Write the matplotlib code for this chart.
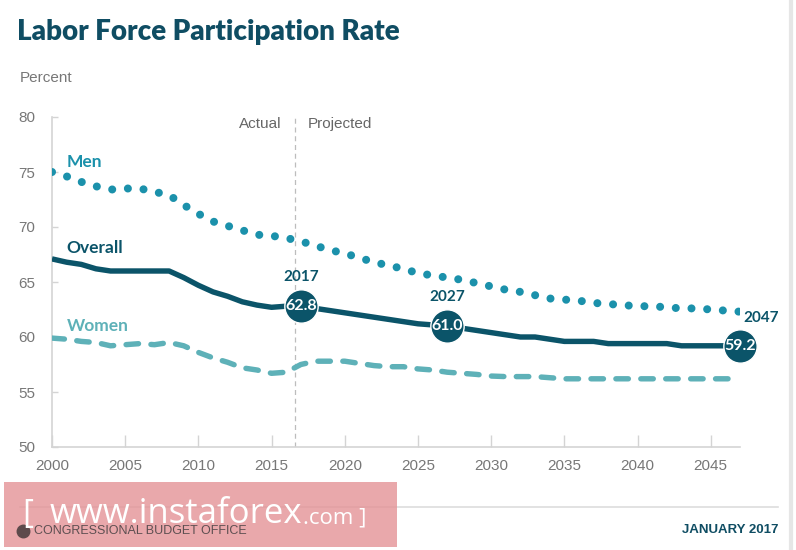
import matplotlib
matplotlib.use("Agg")
import matplotlib.pyplot as plt
from matplotlib import font_manager
from matplotlib.patches import Rectangle
from matplotlib.lines import Line2D

years = list(range(2000, 2048))
men = [75.0, 74.6, 74.1, 73.7, 73.4, 73.5, 73.5, 73.2, 72.9, 72.0,
       71.2, 70.5, 70.1, 69.7, 69.3, 69.2, 69.0, 68.7, 68.3, 67.9,
       67.6, 67.2, 66.8, 66.5, 66.2, 65.8, 65.6, 65.4, 65.2, 64.9,
       64.6, 64.3, 64.1, 63.8, 63.5, 63.4, 63.3, 63.1, 63.0, 62.9,
       62.8, 62.8, 62.7, 62.6, 62.6, 62.5, 62.4, 62.3]
overall = [67.1, 66.8, 66.6, 66.2, 66.0, 66.0, 66.0, 66.0, 66.0, 65.4,
           64.7, 64.1, 63.7, 63.2, 62.9, 62.7, 62.8, 62.8, 62.6, 62.4,
           62.2, 62.0, 61.8, 61.6, 61.4, 61.2, 61.1, 61.0, 60.8, 60.6,
           60.4, 60.2, 60.0, 60.0, 59.8, 59.6, 59.6, 59.6, 59.4, 59.4,
           59.4, 59.4, 59.4, 59.2, 59.2, 59.2, 59.2, 59.2]
women = [59.9, 59.8, 59.6, 59.5, 59.2, 59.3, 59.4, 59.3, 59.5, 59.2,
         58.6, 58.1, 57.7, 57.2, 57.0, 56.7, 56.8, 57.5, 57.8, 57.8,
         57.8, 57.6, 57.4, 57.3, 57.3, 57.1, 57.0, 56.8, 56.7, 56.6,
         56.45, 56.4, 56.4, 56.4, 56.3, 56.2, 56.2, 56.2, 56.2, 56.2,
         56.2, 56.2, 56.2, 56.2, 56.2, 56.2, 56.2, 56.2]
highlight_years = [2017, 2027, 2047]
highlight_vals = [62.8, 61.0, 59.2]
xticks = [2000, 2005, 2010, 2015, 2020, 2025, 2030, 2035, 2040, 2045]
yticks = [50, 55, 60, 65, 70, 75, 80]
split_year = 2016.6

C_MEN = "#1b91ab"
C_OVR = "#0b5469"
C_WOM = "#5eb1b8"
C_TITLE = "#0f4d63"
C_GRAY = "#777777"
C_AX = "#d4d4d4"

installed = {f.name for f in font_manager.fontManager.ttflist}
if "Liberation Sans Narrow" in installed:
    NARROW = "Liberation Sans Narrow"
elif "DejaVu Sans Condensed" in installed:
    NARROW = "DejaVu Sans Condensed"
else:
    NARROW = "Liberation Sans"
narrow = [NARROW, "DejaVu Sans"]
bold_font = ["Lato", "DejaVu Sans"]

W, H = 796, 550
fig = plt.figure(figsize=(W / 100, H / 100), dpi=100)
ax = fig.add_axes([52 / W, 1 - 447 / H, (740 - 52) / W, (447 - 117) / H])
ax.set_xlim(2000, 2047)
ax.set_ylim(50, 80)
ax.patch.set_alpha(0)
for s in ["top", "right"]:
    ax.spines[s].set_visible(False)
for s in ["left", "bottom"]:
    ax.spines[s].set_color(C_AX)
    ax.spines[s].set_linewidth(1.2)

ax.set_xticks(xticks)
ax.set_yticks(yticks)
ax.tick_params(axis="x", direction="in", length=9, width=1, color=C_AX,
               labelsize=11, labelcolor=C_GRAY, pad=9)
ax.tick_params(axis="y", direction="in", length=4, width=1, color=C_AX,
               labelsize=11, labelcolor=C_GRAY, pad=12)
for lab in ax.get_xticklabels() + ax.get_yticklabels():
    lab.set_family(narrow)

# split line
ax.axvline(split_year, color="#bdbdbd", lw=0.9, ls=(0, (4, 3)), zorder=1)
ax.text(split_year - 0.9, 79.4, "Actual", ha="right", va="center",
        fontsize=11, color="#666666", family=narrow)
ax.text(split_year + 0.9, 79.4, "Projected", ha="left", va="center",
        fontsize=11, color="#666666", family=narrow)

# lines
ax.plot(years, men, color=C_MEN, lw=5.8, ls=(0, (0.001, 1.95)),
        dash_capstyle="round", zorder=3)
ax.plot(years, women, color=C_WOM, lw=3.9, ls=(0, (2.3, 2.3)),
        dash_capstyle="round", zorder=3)
ax.plot(years, overall, color=C_OVR, lw=3.9, solid_capstyle="butt",
        solid_joinstyle="round", zorder=4)

# highlight circles
ax.plot(highlight_years, highlight_vals, ls="none", marker="o", ms=24,
        color=C_OVR, mec="white", mew=1, zorder=5, clip_on=False)
for yr, v in zip(highlight_years, highlight_vals):
    ax.text(yr, v, f"{v:.1f}", ha="center", va="center", color="white",
            fontsize=11.5, fontweight="bold", family=bold_font, zorder=6)
    off = (15, 20) if yr == 2047 else (0, 21)
    ax.annotate(str(yr), (yr, v), xytext=off, textcoords="offset points",
                ha="center", va="center", fontsize=11, fontweight="bold",
                color=C_OVR, family=bold_font)

# series labels
ax.text(2001.0, 75.9, "Men", color=C_MEN, fontsize=12.5, fontweight="bold",
        family=bold_font, va="center")
ax.text(2001.0, 68.1, "Overall", color=C_OVR, fontsize=12.5, fontweight="bold",
        family=bold_font, va="center")
ax.text(2001.0, 61.0, "Women", color=C_WOM, fontsize=12.5, fontweight="bold",
        family=bold_font, va="center")

# title and unit
fig.text(17 / W, 1 - 32 / H, "Labor Force Participation Rate", fontsize=20,
         fontweight="heavy", color=C_TITLE, family=bold_font,
         ha="left", va="center")
fig.text(20 / W, 1 - 78 / H, "Percent", fontsize=11, color=C_GRAY,
         family=narrow, ha="left", va="center")

# footer
fig.add_artist(Line2D([20 / W, 778 / W], [1 - 507 / H, 1 - 507 / H],
                      color="#dddddd", lw=1.2))
fig.add_artist(Line2D([791 / W, 791 / W], [0, 1], color="#e6e6e6", lw=3))
fig.text(778 / W, 1 - 530 / H, "JANUARY 2017", fontsize=9.5, fontweight="bold",
         color=C_TITLE, family=narrow, ha="right", va="center")

# watermark box (CBO credit shows through it)
fig.add_artist(Rectangle((4 / W, 1 - 547 / H), 393 / W, 65 / H,
                         transform=fig.transFigure, color="#e49396", alpha=0.8,
                         lw=0, zorder=10))
fig.add_artist(Line2D([23 / W], [1 - 531 / H], marker="o", ms=9, ls="none",
                      color="#5d4a4c", zorder=12))
fig.text(34 / W, 1 - 531 / H, "CONGRESSIONAL BUDGET OFFICE", fontsize=9,
         color="#5d4f51", family=narrow, ha="left", va="center", zorder=12)
wm_font = ["Open Sans", "DejaVu Sans"]
fig.text(22 / W, 1 - 515 / H, "[", fontsize=24, color="white",
         family=wm_font, ha="left", va="center", zorder=13)
t1 = fig.text(50 / W, 1 - 514 / H, "www.instaforex", fontsize=25, color="white",
              family=wm_font, ha="left", va="center", zorder=13)
fig.canvas.draw()
bb = t1.get_window_extent(renderer=fig.canvas.get_renderer())
fig.text(bb.x1 / W, 1 - 518 / H, ".com ]", fontsize=16, color="white",
         family=wm_font, ha="left", va="center", zorder=13)

fig.savefig("out.png", dpi=100)
